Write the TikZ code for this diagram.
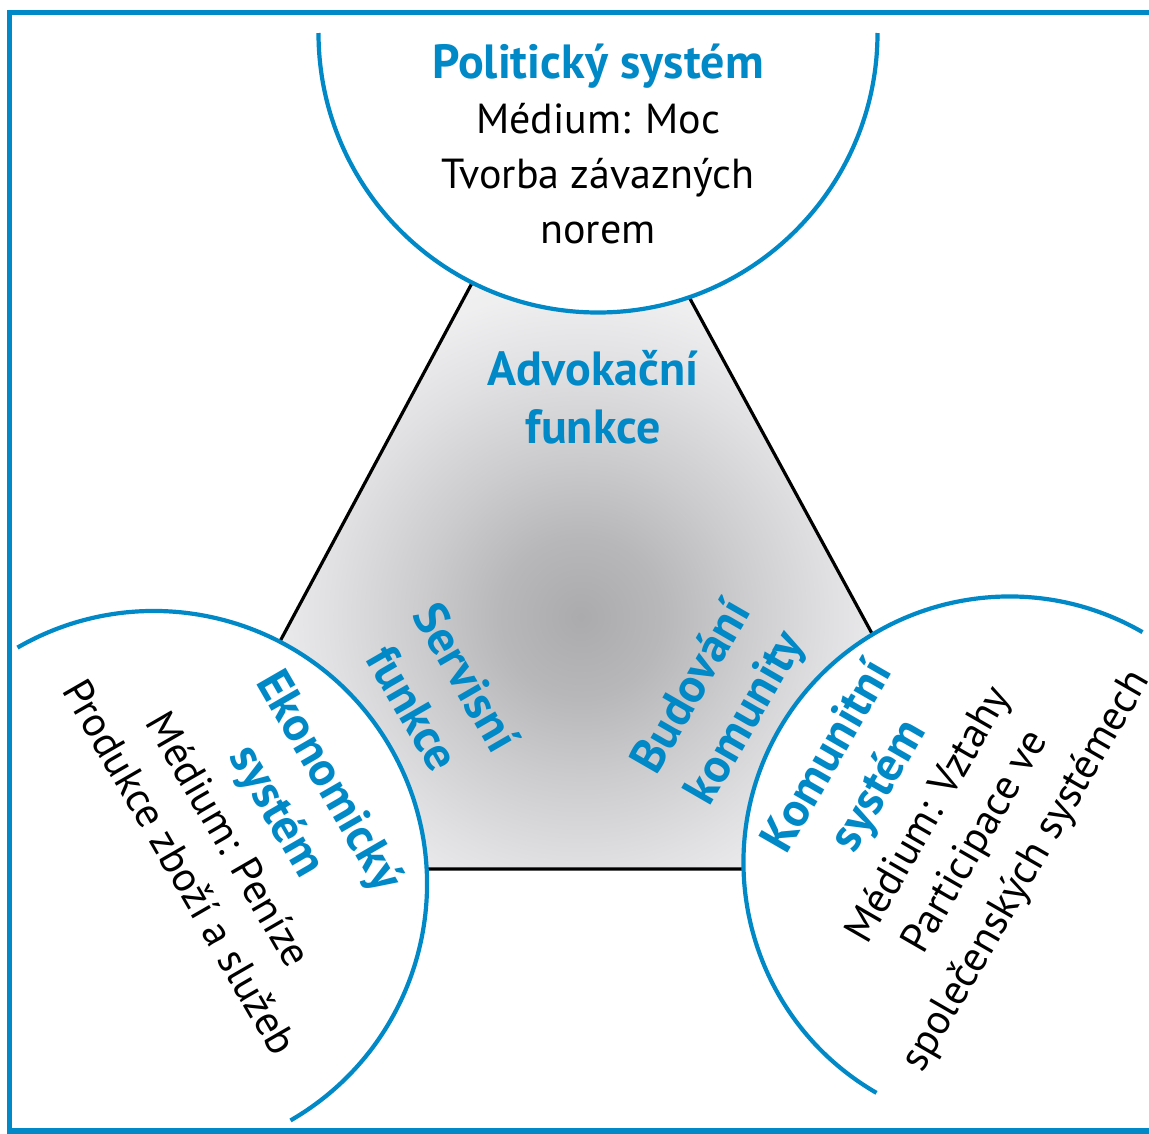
\documentclass[tikz,border=0pt]{standalone}
\usepackage{fontspec}
\setmainfont{PT Sans}
\definecolor{dblue}{RGB}{0,137,198}
% radius 450 of the shaded circle corresponds to 25bp (1bp = 18px)
\pgfdeclareradialshading{hexshade}{\pgfpoint{0bp}{0bp}}{%
  rgb(0bp)=(0.67,0.67,0.68);
  rgb(4.5bp)=(0.72,0.72,0.73);
  rgb(9bp)=(0.80,0.80,0.81);
  rgb(14bp)=(0.88,0.88,0.89);
  rgb(18bp)=(0.935,0.935,0.94);
  rgb(24bp)=(0.97,0.97,0.97);
  rgb(50bp)=(0.97,0.97,0.97)}
\tikzset{
  head/.style={font=\fontsize{48}{58}\selectfont\bfseries, text=dblue, anchor=base, inner sep=0pt},
  body/.style={font=\fontsize{42}{55}\selectfont, text=black, anchor=base, inner sep=0pt},
  func/.style={font=\fontsize{48}{58}\selectfont\bfseries, text=dblue, anchor=base, inner sep=0pt},
  arcline/.style={draw=dblue, line width=4.2pt},
  edgeline/.style={draw=black, line width=3.2pt},
  frameline/.style={draw=dblue, line width=5.5pt}
}
\begin{document}
\begin{tikzpicture}[x=1pt,y=1pt]
\useasboundingbox (0,0) rectangle (1149,-1133);
\clip (0,0) rectangle (1149,-1133);
% triangle with radial gradient
\coordinate (A) at (576,-89);
\coordinate (B) at (158,-869);
\coordinate (C) at (1000,-869);
\coordinate (G) at (581,-617);
\begin{scope}
  \clip (A) -- (B) -- (C) -- cycle;
  \shade[shading=hexshade] (G) circle (450);
\end{scope}
\draw[edgeline] (A) -- (B) -- (C) -- cycle;
% semicircles
\coordinate (topc) at (598,-33);
\coordinate (blc) at (154,-884);
\coordinate (brc) at (1009.5,-862.5);
\fill[white] (topc) ++(180:279.5) arc[start angle=180,end angle=360,radius=279.5] -- cycle;
\draw[arcline] (topc) ++(180:279.5) arc[start angle=180,end angle=360,radius=279.5];
\fill[white] (blc) ++(-60:273) arc[start angle=-60,end angle=120,radius=273] -- cycle;
\draw[arcline] (blc) ++(-60:273) arc[start angle=-60,end angle=120,radius=273];
\fill[white] (brc) ++(60:266) arc[start angle=60,end angle=240,radius=266] -- cycle;
\draw[arcline] (brc) ++(60:266) arc[start angle=60,end angle=240,radius=266];
% frame
\draw[frameline] (9.5,-12.5) rectangle (1170,-1131);
% top texts
\node[head] (polit) at (598,-78) {Politický systém};
\node[body] (polit2) at (598,-133) {Médium: Moc};
\node[body] (polit3) at (598,-188) {Tvorba závazných};
\node[body] (polit4) at (598,-243) {norem};
% Advokacni
\node[func] (adv1) at (593,-385) {Advokační};
\node[func] (adv2) at (593,-443) {funkce};
% economic
\begin{scope}[shift={(316.6,-788.3)}, rotate=-60, transform shape]
  \node[head] (eko1) at (0,0) {Ekonomický};
  \node[head] (eko2) at (0,-60) {systém};
  \node[body] (eko3) at (0,-116) {Médium: Peníze};
  \node[body] (eko4) at (0,-172) {Produkce zboží a služeb};
\end{scope}
% community
\begin{scope}[shift={(839.6,-763.3)}, rotate=60, transform shape]
  \node[head] (kom1) at (0,0) {Komunitní};
  \node[head] (kom2) at (0,-59) {systém};
  \node[body] (kom3) at (0,-115) {Médium: Vztahy};
  \node[body] (kom4) at (0,-169) {Participace ve};
  \node[body] (kom5) at (0,-227) {společenských systémech};
\end{scope}
% servisni
\begin{scope}[shift={(452.2,-685.7)}, rotate=-60, transform shape]
  \node[func] (ser1) at (0,0) {Servisní};
  \node[func] (ser2) at (0,-62) {funkce};
\end{scope}
% budovani
\begin{scope}[shift={(704,-694)}, rotate=60, transform shape]
  \node[func] (bud1) at (0,0) {Budování};
  \node[func] (bud2) at (0,-62) {komunity};
\end{scope}
\end{tikzpicture}
\end{document}
